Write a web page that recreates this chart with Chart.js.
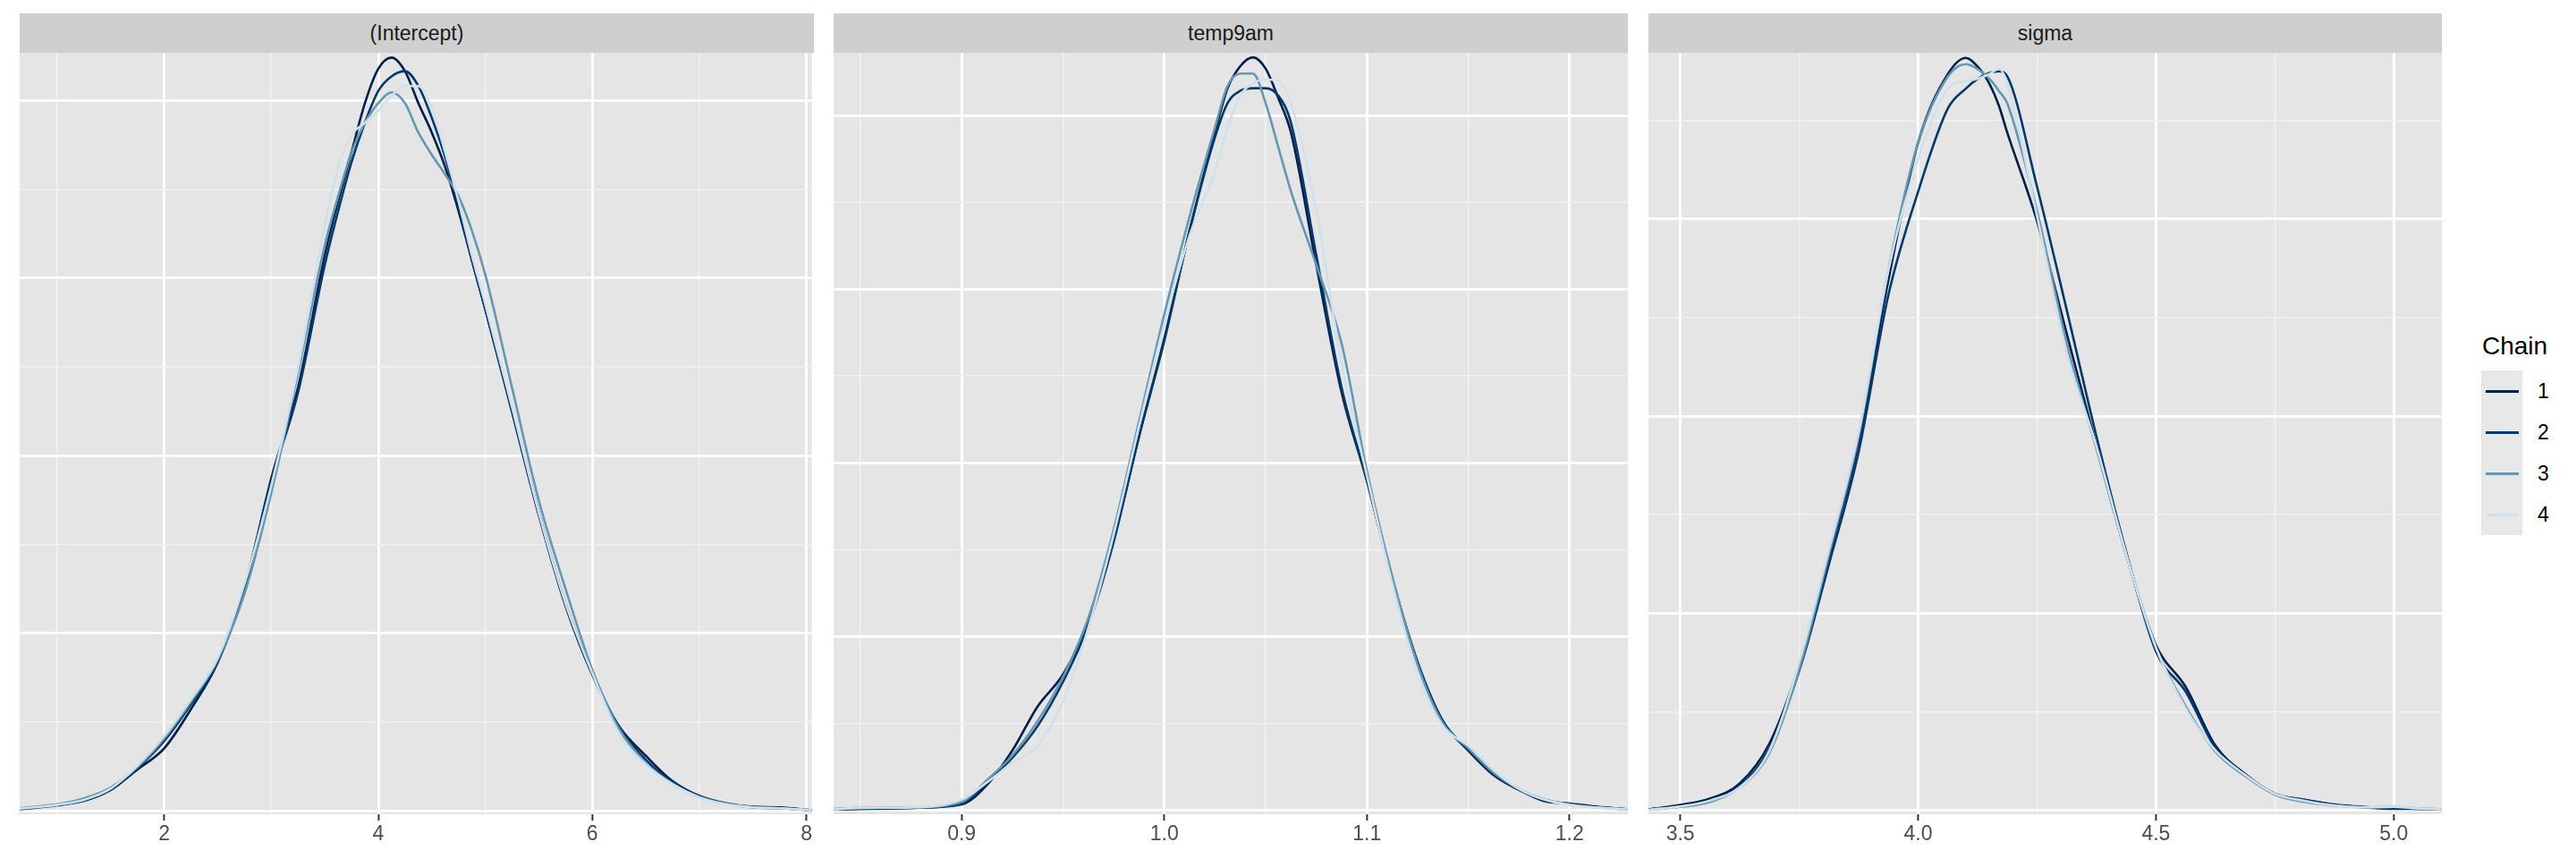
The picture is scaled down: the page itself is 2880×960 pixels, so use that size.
<!DOCTYPE html>
<html>
<head>
<meta charset="utf-8">
<script src="https://cdn.jsdelivr.net/npm/chart.js@4.4.1/dist/chart.umd.min.js"></script>
<style>
    html, body { margin: 0; padding: 0; background: #ffffff; }
    body { width: 2880px; height: 960px; position: relative; overflow: hidden; font-family: 'Liberation Sans', Arial, sans-serif; }
    .strip { position: absolute; top: 15px; height: 44px; line-height: 44px; background: #cfcfcf; color: #1a1a1a; font-size: 23px; text-align: center; }
    .panel { position: absolute; top: 59px; height: 901px; }
    #legendTitle { position: absolute; left: 2775px; top: 373px; font-size: 28px; line-height: 28px; color: #000; }
    .key { position: absolute; left: 2774px; width: 46px; height: 46px; background: #e8e8e8; }
    .key span { position: absolute; left: 5px; width: 37px; height: 3px; top: 22px; }
    .keyLabel { position: absolute; left: 2837px; font-size: 23px; color: #000; line-height: 46px; }
</style>
</head>
<body>
<div id="strips"></div>
<canvas id="p1" class="panel" width="888" height="901" style="left:22px"></canvas>
<canvas id="p2" class="panel" width="888" height="901" style="left:932px"></canvas>
<canvas id="p3" class="panel" width="887" height="901" style="left:1843px"></canvas>
<div id="legend"></div>
<script>
const chains = ['1', '2', '3', '4'];
const chainColors = ['#011f4b', '#03396c', '#6497b1', '#d1e1ec'];

// (Intercept)
const interceptX = [0.65, 1.0, 1.25, 1.5, 1.75, 2.0, 2.25, 2.5, 2.75, 3.0, 3.25, 3.5, 3.625, 3.75, 3.875, 4.0, 4.125, 4.25, 4.375, 4.5, 4.625, 4.75, 4.875, 5.0, 5.25, 5.5, 5.75, 6.0, 6.25, 6.5, 6.75, 7.0, 7.25, 7.5, 7.75, 8.05];
const interceptChain1 = [0.0011, 0.0033, 0.0055, 0.0116, 0.0232, 0.0351, 0.0572, 0.0834, 0.1249, 0.1870, 0.2381, 0.3127, 0.3431, 0.3707, 0.3983, 0.4177, 0.4240, 0.4163, 0.3983, 0.3818, 0.3624, 0.3376, 0.3099, 0.2823, 0.2243, 0.1663, 0.1152, 0.0765, 0.0475, 0.0309, 0.0166, 0.0083, 0.0041, 0.0022, 0.0019, 0.0003];
const interceptChain2 = [0.0008, 0.0030, 0.0058, 0.0122, 0.0240, 0.0392, 0.0599, 0.0840, 0.1262, 0.1856, 0.2354, 0.3072, 0.3376, 0.3652, 0.3873, 0.4052, 0.4135, 0.4163, 0.4080, 0.3901, 0.3680, 0.3403, 0.3099, 0.2823, 0.2257, 0.1677, 0.1166, 0.0779, 0.0470, 0.0287, 0.0160, 0.0080, 0.0039, 0.0019, 0.0014, 0.0003];
const interceptChain3 = [0.0014, 0.0036, 0.0069, 0.0130, 0.0246, 0.0406, 0.0613, 0.0848, 0.1221, 0.1787, 0.2464, 0.3182, 0.3459, 0.3707, 0.3873, 0.3983, 0.4044, 0.3983, 0.3818, 0.3693, 0.3582, 0.3459, 0.3265, 0.3017, 0.2381, 0.1746, 0.1249, 0.0793, 0.0461, 0.0268, 0.0152, 0.0077, 0.0039, 0.0019, 0.0014, 0.0003];
const interceptChain4 = [0.0011, 0.0033, 0.0061, 0.0124, 0.0254, 0.0420, 0.0627, 0.0862, 0.1276, 0.1829, 0.2492, 0.3293, 0.3624, 0.3804, 0.3873, 0.3942, 0.4025, 0.4080, 0.4080, 0.3956, 0.3707, 0.3431, 0.3127, 0.2851, 0.2271, 0.1677, 0.1166, 0.0773, 0.0434, 0.0260, 0.0149, 0.0075, 0.0036, 0.0019, 0.0014, 0.0003];
const interceptTicks = [2, 4, 6, 8];
const interceptTickLabels = ['2', '4', '6', '8'];

// temp9am
const tempX = [0.8368, 0.85, 0.875, 0.9, 0.9125, 0.925, 0.9375, 0.95, 0.9625, 0.975, 0.9875, 1.0, 1.0125, 1.025, 1.03125, 1.0375, 1.04375, 1.05, 1.05625, 1.0625, 1.075, 1.0875, 1.1, 1.1125, 1.125, 1.1375, 1.15, 1.1625, 1.175, 1.1875, 1.2, 1.2125, 1.2288];
const tempChain1 = [0.011, 0.017, 0.028, 0.068, 0.294, 0.689, 1.197, 1.564, 2.157, 3.117, 4.303, 5.432, 6.674, 7.803, 8.312, 8.566, 8.667, 8.538, 8.199, 7.803, 6.279, 4.811, 3.794, 2.665, 1.705, 1.028, 0.689, 0.407, 0.237, 0.107, 0.079, 0.045, 0.011];
const tempChain2 = [0.011, 0.017, 0.028, 0.079, 0.322, 0.604, 0.971, 1.479, 2.129, 3.089, 4.303, 5.404, 6.674, 7.747, 8.142, 8.283, 8.312, 8.312, 8.227, 7.916, 6.392, 4.867, 3.794, 2.665, 1.705, 1.028, 0.700, 0.418, 0.237, 0.124, 0.068, 0.040, 0.011];
const tempChain3 = [0.017, 0.028, 0.034, 0.096, 0.350, 0.632, 1.028, 1.536, 2.213, 3.230, 4.473, 5.709, 6.838, 7.860, 8.340, 8.481, 8.481, 8.142, 7.634, 7.126, 6.279, 5.375, 3.908, 2.693, 1.677, 1.003, 0.717, 0.435, 0.248, 0.124, 0.068, 0.034, 0.011];
const tempChain4 = [0.011, 0.028, 0.034, 0.124, 0.322, 0.548, 0.745, 1.254, 2.100, 3.173, 4.416, 5.601, 6.618, 7.352, 7.860, 8.227, 8.368, 8.413, 8.396, 8.142, 6.900, 5.149, 3.851, 2.609, 1.581, 0.971, 0.745, 0.463, 0.248, 0.124, 0.062, 0.034, 0.011];
const tempTicks = [0.9, 1.0, 1.1, 1.2];
const tempTickLabels = ['0.9', '1.0', '1.1', '1.2'];

// sigma
const sigmaX = [3.433, 3.5, 3.5625, 3.625, 3.6875, 3.75, 3.8125, 3.875, 3.9375, 4.0, 4.0625, 4.1, 4.125, 4.15, 4.17, 4.1875, 4.25, 4.3125, 4.375, 4.4375, 4.5, 4.5625, 4.625, 4.6875, 4.75, 4.8125, 4.875, 4.9375, 5.0, 5.05, 5.101];
const sigmaChain1 = [0.0025, 0.0137, 0.0299, 0.0684, 0.170, 0.369, 0.643, 0.935, 1.346, 1.694, 1.868, 1.909, 1.887, 1.843, 1.787, 1.719, 1.495, 1.209, 0.923, 0.649, 0.419, 0.313, 0.164, 0.092, 0.042, 0.027, 0.015, 0.0087, 0.005, 0.0037, 0.0025];
const sigmaChain2 = [0.0025, 0.0112, 0.0249, 0.0622, 0.158, 0.354, 0.625, 0.910, 1.308, 1.570, 1.781, 1.831, 1.856, 1.871, 1.875, 1.862, 1.582, 1.269, 0.948, 0.655, 0.403, 0.301, 0.158, 0.090, 0.042, 0.026, 0.014, 0.0075, 0.0037, 0.0037, 0.0025];
const sigmaChain3 = [0.0012, 0.0087, 0.0211, 0.0585, 0.146, 0.358, 0.649, 0.948, 1.371, 1.694, 1.862, 1.893, 1.881, 1.856, 1.825, 1.793, 1.520, 1.184, 0.917, 0.649, 0.413, 0.264, 0.149, 0.087, 0.040, 0.021, 0.012, 0.0075, 0.0087, 0.005, 0.0025];
const sigmaChain4 = [0.0012, 0.0100, 0.0249, 0.0585, 0.152, 0.376, 0.662, 0.960, 1.371, 1.654, 1.831, 1.850, 1.856, 1.868, 1.881, 1.843, 1.507, 1.159, 0.923, 0.649, 0.413, 0.258, 0.152, 0.090, 0.042, 0.024, 0.012, 0.0075, 0.0087, 0.005, 0.0025];
const sigmaTicks = [3.5, 4.0, 4.5, 5.0];
const sigmaTickLabels = ['3.5', '4.0', '4.5', '5.0'];

const panels = [
    { id: 'p1', title: '(Intercept)', left: 22, width: 888, xs: interceptX,
      ys: [interceptChain1, interceptChain2, interceptChain3, interceptChain4],
      ticks: interceptTicks, tickLabels: interceptTickLabels,
      xMin: 0.65, xMax: 8.05, xStep: 1, yMin: -0.002, yMax: 0.4267, yStep: 0.05 },
    { id: 'p2', title: 'temp9am', left: 932, width: 888, xs: tempX,
      ys: [tempChain1, tempChain2, tempChain3, tempChain4],
      ticks: tempTicks, tickLabels: tempTickLabels,
      xMin: 0.8368, xMax: 1.2288, xStep: 0.05, yMin: -0.045, yMax: 8.72, yStep: 1 },
    { id: 'p3', title: 'sigma', left: 1843, width: 887, xs: sigmaX,
      ys: [sigmaChain1, sigmaChain2, sigmaChain3, sigmaChain4],
      ticks: sigmaTicks, tickLabels: sigmaTickLabels,
      xMin: 3.433, xMax: 5.101, xStep: 0.25, yMin: -0.01, yMax: 1.922, yStep: 0.25 }
];

const panelBg = {
    id: 'panelBg',
    beforeDraw(chart) {
        const { ctx, chartArea: a } = chart;
        ctx.save();
        ctx.fillStyle = '#e5e5e5';
        ctx.fillRect(a.left, a.top, a.width, a.height);
        ctx.restore();
    }
};

// every second step is a major break
function isMajor(value, step) {
    const k = value / (step * 2);
    return Math.abs(k - Math.round(k)) < 1e-6;
}

const strips = document.getElementById('strips');

for (let p of panels) {
    const strip = document.createElement('div');
    strip.className = 'strip';
    strip.style.left = p.left + 'px';
    strip.style.width = p.width + 'px';
    strip.textContent = p.title;
    strips.append(strip);

    const datasets = chains.map((chain, i) => ({
        label: chain,
        data: p.xs.map((x, j) => ({ x: x, y: p.ys[i][j] })),
        borderColor: chainColors[i],
        borderWidth: 2.6,
        pointRadius: 0,
        fill: false,
        cubicInterpolationMode: 'monotone',
        order: chains.length - i
    }));

    new Chart(document.getElementById(p.id).getContext('2d'), {
        type: 'line',
        data: { datasets: datasets },
        options: {
            responsive: false,
            animation: false,
            layout: { padding: 0 },
            plugins: { legend: { display: false }, tooltip: { enabled: false } },
            scales: {
                x: {
                    type: 'linear',
                    min: p.xMin,
                    max: p.xMax,
                    afterFit: (scale) => { scale.height = 50; },
                    border: { display: false },
                    grid: {
                        color: (c) => isMajor(c.tick.value, p.xStep) ? '#ffffff' : '#f2f2f2',
                        lineWidth: (c) => isMajor(c.tick.value, p.xStep) ? 2.8 : 1.5,
                        tickColor: (c) => p.ticks.some(t => Math.abs(t - c.tick.value) < 1e-6) ? '#333333' : 'rgba(0,0,0,0)',
                        tickLength: 7,
                        tickWidth: 2
                    },
                    ticks: {
                        stepSize: p.xStep,
                        includeBounds: false,
                        autoSkip: false,
                        maxRotation: 0,
                        padding: 2,
                        color: '#4d4d4d',
                        font: { family: 'Liberation Sans', size: 23 },
                        callback: (value) => {
                            const k = p.ticks.findIndex(t => Math.abs(t - value) < 1e-6);
                            return k >= 0 ? p.tickLabels[k] : '';
                        }
                    }
                },
                y: {
                    type: 'linear',
                    min: p.yMin,
                    max: p.yMax,
                    afterFit: (scale) => { scale.width = 0; },
                    border: { display: false },
                    grid: {
                        color: (c) => isMajor(c.tick.value, p.yStep) ? '#ffffff' : '#f2f2f2',
                        lineWidth: (c) => isMajor(c.tick.value, p.yStep) ? 2.8 : 1.5,
                        drawTicks: false
                    },
                    ticks: { display: false, stepSize: p.yStep, includeBounds: false }
                }
            }
        },
        plugins: [panelBg]
    });
}

const legend = document.getElementById('legend');
const legendTitle = document.createElement('div');
legendTitle.id = 'legendTitle';
legendTitle.textContent = 'Chain';
legend.append(legendTitle);

chains.forEach((chain, i) => {
    const key = document.createElement('div');
    key.className = 'key';
    key.style.top = (414 + i * 46) + 'px';
    const line = document.createElement('span');
    line.style.background = chainColors[i];
    key.append(line);

    const label = document.createElement('div');
    label.className = 'keyLabel';
    label.style.top = (414 + i * 46) + 'px';
    label.textContent = chain;

    legend.append(key, label);
});
</script>
</body>
</html>
